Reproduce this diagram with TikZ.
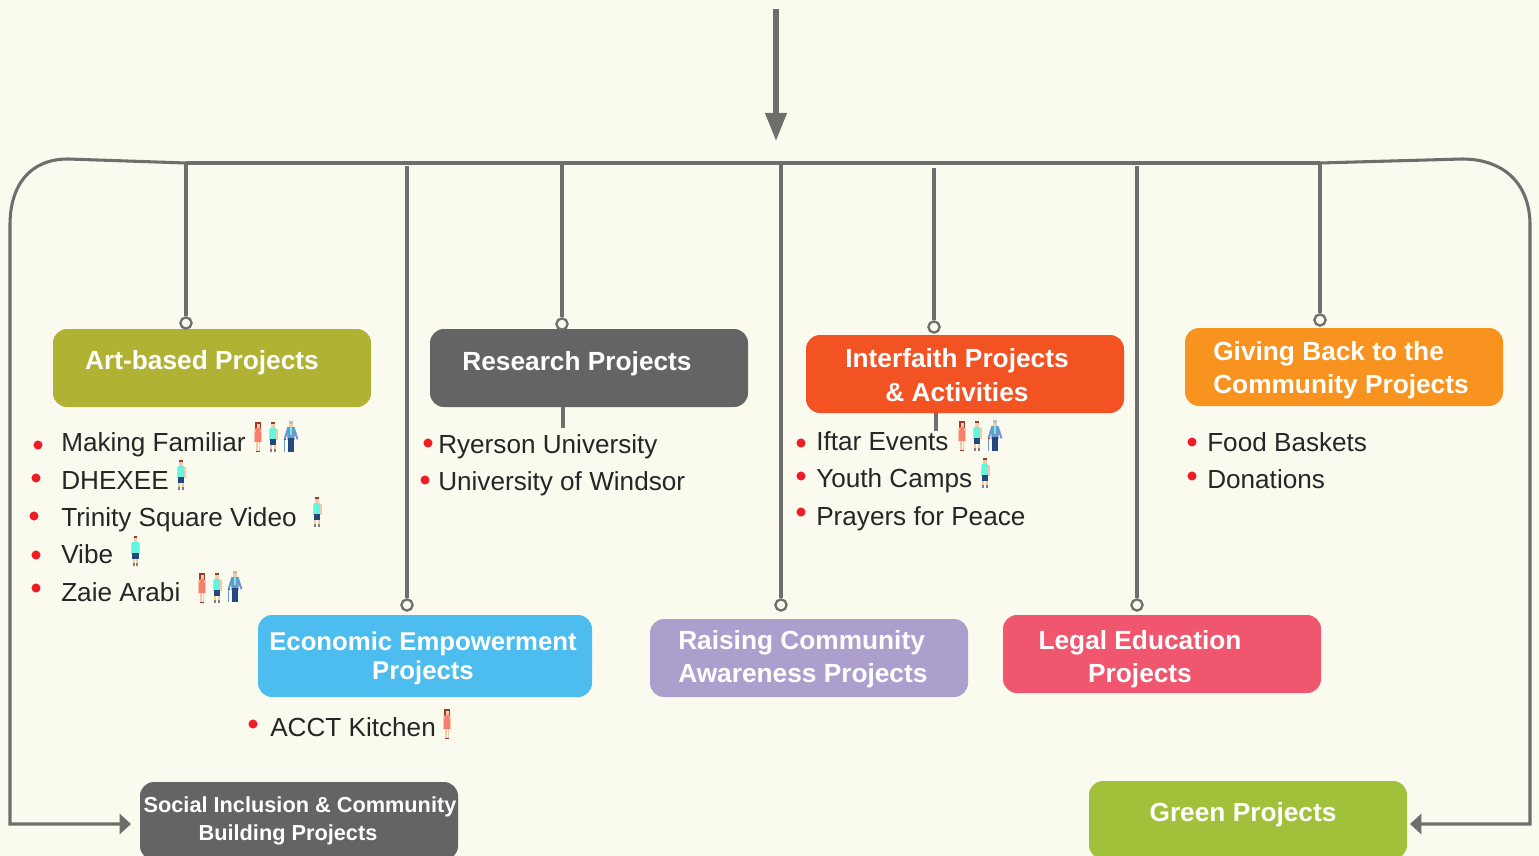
\documentclass[tikz,border=0pt]{standalone}
\usepackage{fontspec}
\setmainfont{Liberation Sans}
\usetikzlibrary{arrows.meta}
\definecolor{bg}{HTML}{FBFAEF}
\definecolor{ln}{HTML}{6E6E6C}
\definecolor{ink}{HTML}{262626}
\definecolor{dot}{HTML}{EE1C25}
\definecolor{cOlive}{HTML}{B0B233}
\definecolor{cGrey}{HTML}{636564}
\definecolor{cRed}{HTML}{F35222}
\definecolor{cOrange}{HTML}{F7931E}
\definecolor{cBlue}{HTML}{4DBDEF}
\definecolor{cPurple}{HTML}{AC9FCD}
\definecolor{cPink}{HTML}{F0566E}
\definecolor{cGreen}{HTML}{A2C13A}
\definecolor{skin}{HTML}{F4C9A8}
\definecolor{hair}{HTML}{9A3B2E}
\definecolor{shirt}{HTML}{62F5E0}
\definecolor{navy}{HTML}{24477C}
\definecolor{dress}{HTML}{F67F6D}
\definecolor{jacket}{HTML}{6E97CF}
\tikzset{
  x=0.75pt,y=-0.75pt,
  boxnode/.style={rounded corners=10.5pt,inner sep=0pt,minimum width=238.5pt,minimum height=58.5pt},
  title/.style={text=white,font=\fontsize{19.7pt}{25pt}\selectfont\bfseries,inner sep=0pt},
  item/.style={text=ink,font=\fontsize{19.6pt}{24pt}\selectfont,inner sep=0pt,anchor=base west},
  bul/.style={circle,fill=dot,inner sep=0pt,minimum size=6.8pt},
  ring/.style={circle,draw=ln,fill=bg,line width=1.7pt,inner sep=0pt,minimum size=8.4pt},
  conn/.style={draw=ln,line width=2.3pt},
  elbow/.style={conn,-{Triangle[length=8.5pt,width=15pt]}},
  boy/.pic={
    \fill[skin] (-1.6,2) rectangle (1.6,6);
    \fill[hair] (-1.7,0) rectangle (1.7,2.4);
    \fill[skin] (-4.5,7) rectangle (-3.3,18);
    \fill[skin] (3.3,7) rectangle (4.5,18);
    \fill[shirt] (-3.4,6) rectangle (3.4,17);
    \fill[navy] (-3.2,17) rectangle (3.2,23);
    \fill[skin] (-2.6,23) rectangle (-0.6,27);
    \fill[skin] (0.6,23) rectangle (2.6,27);
    \fill[gray] (-2.6,27) rectangle (-0.6,30);
    \fill[gray] (0.6,27) rectangle (2.6,30);
  },
  woman/.pic={
    \fill[hair] (-2.6,0) rectangle (2.6,7);
    \fill[skin] (-1.5,1.6) rectangle (1.5,6);
    \fill[skin] (-4,7) rectangle (-3,16);
    \fill[skin] (3,7) rectangle (4,16);
    \fill[dress] (-2.4,6) -- (2.4,6) -- (3.6,20) -- (-3.6,20) -- cycle;
    \fill[skin] (-1.8,20) rectangle (-0.5,29);
    \fill[skin] (0.5,20) rectangle (1.8,29);
    \fill[hair] (-1.8,28.5) rectangle (1.8,30);
  },
  oldman/.pic={
    \fill[skin] (-1.8,2) rectangle (1.8,6);
    \fill[lightgray] (-2.2,0) rectangle (2.2,3);
    \fill[jacket] (-3.6,6) -- (3.6,6) -- (7.4,18) -- (5.6,18.6) -- (3.6,13) -- (3.6,19) -- (-3.6,19) -- (-3.6,13) -- (-5.6,18.6) -- (-7.4,18) -- cycle;
    \fill[shirt] (-1,6) rectangle (1,14);
    \fill[navy] (-3.4,17) -- (3.4,17) -- (3.4,31) -- (-3.4,31) -- cycle;
    \fill[black!70] (-0.3,20) rectangle (0.3,31);
    \fill[jacket] (-7,18.5) rectangle (-6,31);
    \fill[hair] (-7.4,17.6) rectangle (-5.2,18.8);
  }
}
\begin{document}
\begin{tikzpicture}
\useasboundingbox (0,0) rectangle (1539,856);
\clip (0,0) rectangle (1539,856);
\fill[bg] (0,0) rectangle (1539,856);

% boxes
\node[boxnode,fill=cOlive] (art) at (212,368) {};
\node[boxnode,fill=cGrey] (res) at (589,368) {};
\node[boxnode,fill=cRed] (inter) at (965,374) {};
\node[boxnode,fill=cOrange] (give) at (1344,367) {};
\node[boxnode,fill=cBlue,minimum width=250.5pt,minimum height=61.5pt] (econ) at (425,656) {};
\node[boxnode,fill=cPurple] (raise) at (809,658) {};
\node[boxnode,fill=cPink] (legal) at (1162,654) {};
\node[boxnode,fill=cGrey] (social) at (299,821) {};
\node[boxnode,fill=cGreen] (green) at (1248,820) {};

% titles
\node[title] (tart) at (202,363) {Art-based Projects};
\node[title] (tres) at (577,364) {Research Projects};
\node[title,align=center] (tinter) at (957,375) {Interfaith Projects\\\& Activities};
\node[title,align=left,anchor=west] (tgive) at (1213,370) {Giving Back to the\\Community Projects};
\node[title,align=center,font=\fontsize{19.3pt}{22pt}\selectfont\bfseries] (tecon) at (423,658.5) {Economic Empowerment\\Projects};
\node[title,align=left,anchor=west] (traise) at (678,659) {Raising Community\\Awareness Projects};
\node[title,align=center] (tlegal) at (1140,659) {Legal Education\\Projects};
\node[title,align=center,font=\fontsize{16.3pt}{21.5pt}\selectfont\bfseries] (tsocial) at (300,821) {Social Inclusion \& Community\\Building Projects\hspace*{18pt}};
\node[title] (tgreen) at (1243,815) {Green Projects};

% bus
\coordinate (hL) at (186,163);
\coordinate (hR) at (1320,163);
\coordinate (h2) at (407,166);
\coordinate (h3) at (562,163);
\coordinate (h4) at (781,163);
\coordinate (h5) at (934,168);
\coordinate (h6) at (1137,166);
\coordinate (top) at (776,9);
\coordinate (tip) at (776,141);
\coordinate (l1) at (68,159);
\coordinate (r1) at (1462,159);
\coordinate (l2) at (10,225);
\coordinate (r2) at (1530,225);
\coordinate (lb) at (10,824);
\coordinate (rb) at (1530,824);
\coordinate (al) at (131,824);
\coordinate (ar) at (1410,824);
\coordinate (s3) at (563,428);
\coordinate (s5) at (936,431);

\draw[draw=ln,line width=3.8pt,-{Triangle[length=21pt,width=15.5pt]}] (top) -- (tip);
\draw[conn] (hL) -- (hR);
\draw[elbow] (hL) -- (l1) .. controls (30,159) and (10,185) .. (l2) -- (lb) -- (al);
\draw[elbow] (hR) -- (r1) .. controls (1505,159) and (1530,185) .. (r2) -- (rb) -- (ar);

% rings
\node[ring] (c1) at (186,323) {};
\node[ring] (c2) at (407,605) {};
\node[ring] (c3) at (562,324) {};
\node[ring] (c4) at (781,605) {};
\node[ring] (c5) at (934,327) {};
\node[ring] (c6) at (1137,605) {};
\node[ring] (c7) at (1320,320) {};
\draw[conn] (hL) -- (c1);
\draw[conn] (h2) -- (c2);
\draw[conn] (h3) -- (c3);
\draw[conn] (h4) -- (c4);
\draw[conn] (h5) -- (c5);
\draw[conn] (h6) -- (c6);
\draw[conn] (hR) -- (c7);
\draw[conn] (res.south -| s3) -- (s3);
\draw[conn] (inter.south -| s5) -- (s5);

% items
\node[item] (a1) at (61,451) {Making Familiar};
\node[item] (a2) at (61,489) {DHEXEE};
\node[item] (a3) at (61,526) {Trinity Square Video};
\node[item] (a4) at (61,563) {Vibe};
\node[item] (a5) at (61,601) {Zaie Arabi};
\node[item] (b1) at (438,453) {Ryerson University};
\node[item] (b2) at (438,490) {University of Windsor};
\node[item] (e1) at (270,736) {ACCT Kitchen};
\node[item] (i1) at (816,450) {Iftar Events};
\node[item] (i2) at (816,487) {Youth Camps};
\node[item] (i3) at (816,525) {Prayers for Peace};
\node[item] (g1) at (1207,451) {Food Baskets};
\node[item] (g2) at (1207,488) {Donations};

% bullets
\node[bul] (ba1) at (38,445) {};
\node[bul] (ba2) at (36,478) {};
\node[bul] (ba3) at (34,516) {};
\node[bul] (ba4) at (36,555) {};
\node[bul] (ba5) at (36,588) {};
\node[bul] (bb1) at (428,443) {};
\node[bul] (bb2) at (425,480) {};
\node[bul] (be1) at (253,724) {};
\node[bul] (bi1) at (801,443) {};
\node[bul] (bi2) at (801,476) {};
\node[bul] (bi3) at (801,512) {};
\node[bul] (bg1) at (1192,442) {};
\node[bul] (bg2) at (1192,476) {};

% people
\pic at (258,422) {woman};
\pic at (273,422) {boy};
\pic at (291,421) {oldman};
\pic at (181,460) {boy};
\pic at (317,497) {boy};
\pic at (135.5,536) {boy};
\pic at (202,573) {woman};
\pic at (217,573) {boy};
\pic at (235,571) {oldman};
\pic at (447,709) {woman};
\pic at (962,421) {woman};
\pic at (977,421) {boy};
\pic at (995,420) {oldman};
\pic at (985,458) {boy};
\end{tikzpicture}
\end{document}
